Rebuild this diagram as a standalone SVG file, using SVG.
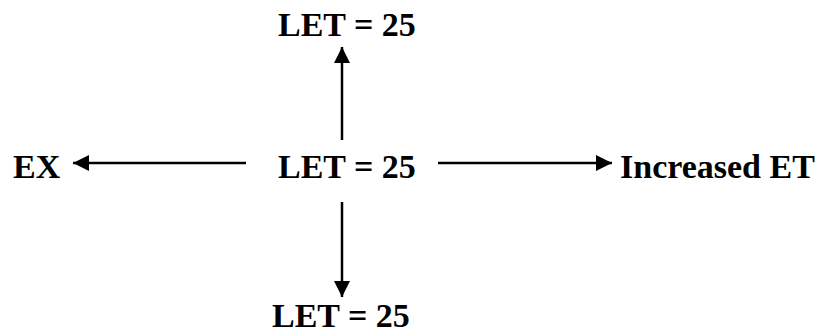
<svg xmlns="http://www.w3.org/2000/svg" width="822" height="333" viewBox="0 0 822 333">
<style>
.t{font-family:"Liberation Serif","Times New Roman",serif;font-weight:bold;font-size:34px;fill:#000}
.c{stroke:#000;stroke-width:2.5;fill:none}
</style>
<defs>
<marker id="ah" markerUnits="userSpaceOnUse" markerWidth="17" markerHeight="16" refX="16" refY="8" orient="auto">
<path d="M0,0 L16,8 L0,16 Z" fill="#000"/>
</marker>
</defs>
<rect width="822" height="333" fill="#fff"/>
<g id="connectors">
<line class="c" x1="342" y1="140" x2="342" y2="47" marker-end="url(#ah)"/>
<line class="c" x1="246" y1="163" x2="73" y2="163" marker-end="url(#ah)"/>
<line class="c" x1="438" y1="163" x2="612" y2="163" marker-end="url(#ah)"/>
<line class="c" x1="342" y1="202" x2="342" y2="297" marker-end="url(#ah)"/>
</g>
<g id="top"><text class="t" x="278" y="36">LET = 25</text></g>
<g id="center"><text class="t" x="278" y="178">LET = 25</text></g>
<g id="left"><text class="t" x="13" y="178">EX</text></g>
<g id="right"><text class="t" x="620" y="178">Increased ET</text></g>
<g id="bottom"><text class="t" x="272" y="327">LET = 25</text></g>
</svg>
